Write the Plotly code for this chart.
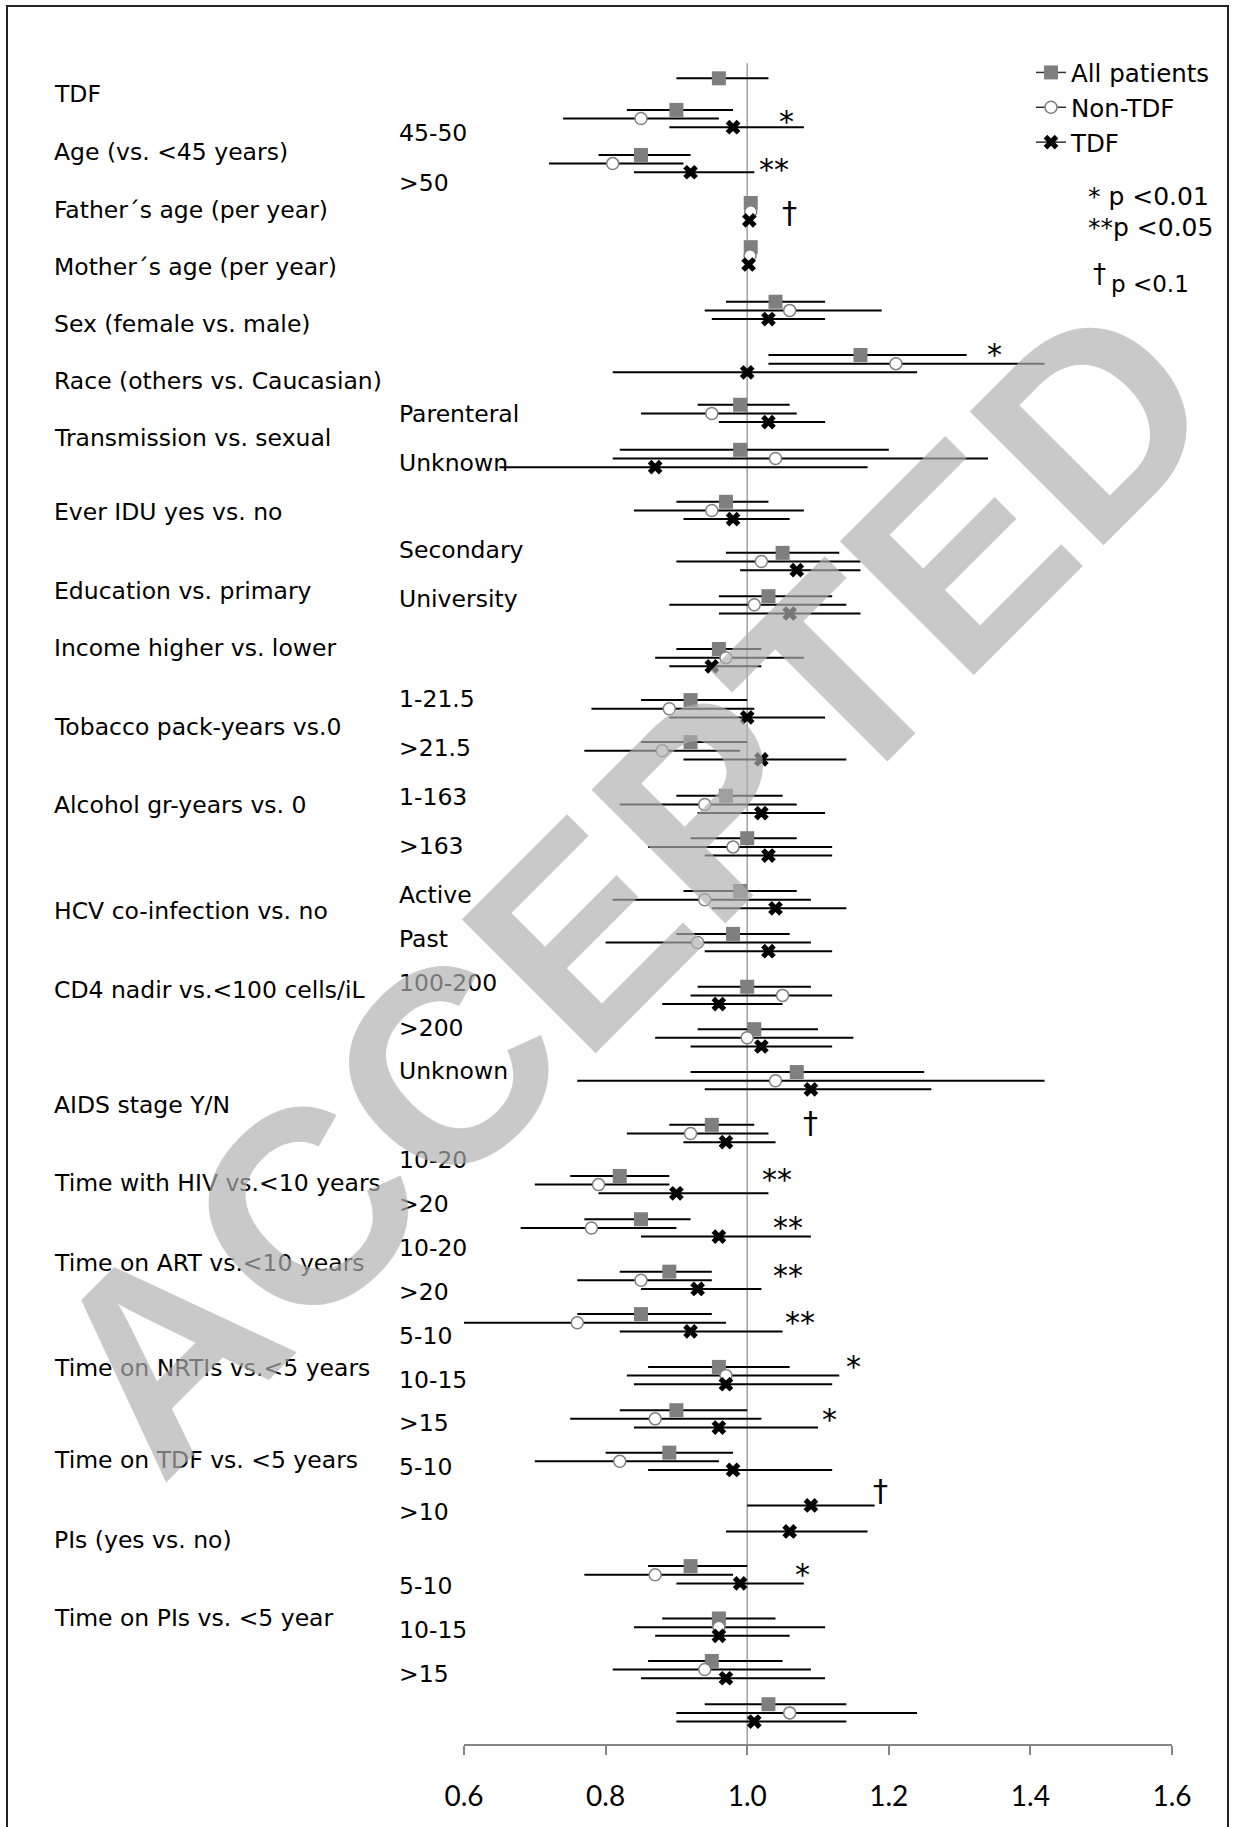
import plotly.graph_objects as go

# ---------------- DATA ----------------
row_names = [
    "TDF", "Age 45-50", "Age >50", "Father's age", "Mother's age", "Sex", "Race",
    "Transmission parenteral", "Transmission unknown", "Ever IDU", "Education secondary",
    "Education university", "Income", "Tobacco 1-21.5", "Tobacco >21.5", "Alcohol 1-163",
    "Alcohol >163", "HCV active", "HCV past", "CD4 100-200", "CD4 >200", "CD4 unknown",
    "AIDS", "HIV 10-20", "HIV >20", "ART 10-20", "ART >20", "NRTIs 5-10", "NRTIs 10-15",
    "NRTIs >15", "TDF 5-10", "TDF >10", "PIs", "PIs 5-10", "PIs 10-15", "PIs >15",
]

# All patients: estimate, lower, upper
all_est = [0.96, 0.90, 0.85, 1.005, 1.005, 1.04, 1.16, 0.99, 0.99, 0.97, 1.05, 1.03, 0.96, 0.92, 0.92, 0.97,
           1.00, 0.99, 0.98, 1.00, 1.01, 1.07, 0.95, 0.82, 0.85, 0.89, 0.85, 0.96, 0.90, 0.89, None, None,
           0.92, 0.96, 0.95, 1.03]
all_lo = [0.90, 0.83, 0.79, 1.000, 1.000, 0.97, 1.03, 0.93, 0.82, 0.90, 0.97, 0.96, 0.90, 0.85, 0.85, 0.90,
          0.92, 0.91, 0.90, 0.93, 0.93, 0.92, 0.89, 0.75, 0.77, 0.82, 0.76, 0.86, 0.82, 0.80, None, None,
          0.86, 0.88, 0.86, 0.94]
all_hi = [1.03, 0.98, 0.92, 1.010, 1.010, 1.11, 1.31, 1.06, 1.20, 1.03, 1.13, 1.12, 1.02, 1.00, 1.00, 1.05,
          1.07, 1.07, 1.06, 1.09, 1.10, 1.25, 1.01, 0.89, 0.92, 0.95, 0.95, 1.06, 1.00, 0.98, None, None,
          1.00, 1.04, 1.05, 1.14]

# Non-TDF
non_est = [None, 0.85, 0.81, 1.005, 1.004, 1.06, 1.21, 0.95, 1.04, 0.95, 1.02, 1.01, 0.97, 0.89, 0.88, 0.94,
           0.98, 0.94, 0.93, 1.05, 1.00, 1.04, 0.92, 0.79, 0.78, 0.85, 0.76, 0.97, 0.87, 0.82, None, None,
           0.87, 0.96, 0.94, 1.06]
non_lo = [None, 0.74, 0.72, 1.000, 0.999, 0.94, 1.03, 0.85, 0.81, 0.84, 0.90, 0.89, 0.87, 0.78, 0.77, 0.82,
          0.86, 0.81, 0.80, 0.92, 0.87, 0.76, 0.83, 0.70, 0.68, 0.76, 0.60, 0.83, 0.75, 0.70, None, None,
          0.77, 0.84, 0.81, 0.90]
non_hi = [None, 0.96, 0.91, 1.010, 1.009, 1.19, 1.42, 1.07, 1.34, 1.08, 1.16, 1.14, 1.08, 1.01, 0.99, 1.07,
          1.12, 1.09, 1.09, 1.12, 1.15, 1.42, 1.03, 0.89, 0.90, 0.95, 0.97, 1.13, 1.02, 0.96, None, None,
          0.98, 1.11, 1.09, 1.24]

# TDF
tdf_est = [None, 0.98, 0.92, 1.003, 1.002, 1.03, 1.00, 1.03, 0.87, 0.98, 1.07, 1.06, 0.95, 1.00, 1.02, 1.02,
           1.03, 1.04, 1.03, 0.96, 1.02, 1.09, 0.97, 0.90, 0.96, 0.93, 0.92, 0.97, 0.96, 0.98, 1.09, 1.06,
           0.99, 0.96, 0.97, 1.01]
tdf_lo = [None, 0.89, 0.84, 0.998, 0.997, 0.95, 0.81, 0.96, 0.65, 0.91, 0.99, 0.96, 0.89, 0.89, 0.91, 0.93,
          0.94, 0.95, 0.94, 0.88, 0.92, 0.94, 0.91, 0.79, 0.85, 0.85, 0.82, 0.84, 0.84, 0.86, 1.00, 0.97,
          0.90, 0.87, 0.85, 0.90]
tdf_hi = [None, 1.08, 1.01, 1.008, 1.007, 1.11, 1.24, 1.11, 1.17, 1.06, 1.16, 1.16, 1.02, 1.11, 1.14, 1.11,
          1.12, 1.14, 1.12, 1.05, 1.12, 1.26, 1.04, 1.03, 1.09, 1.02, 1.05, 1.12, 1.10, 1.12, 1.18, 1.17,
          1.08, 1.06, 1.11, 1.14]

series_names = ["All patients", "Non-TDF", "TDF"]

main_labels = ["TDF", "Age (vs. &lt;45 years)", "Father´s age (per year)", "Mother´s age (per year)",
               "Sex (female vs. male)", "Race (others vs. Caucasian)", "Transmission vs. sexual",
               "Ever IDU yes vs. no", "Education vs. primary", "Income higher vs. lower",
               "Tobacco pack-years vs.0", "Alcohol gr-years vs. 0", "HCV co-infection vs. no",
               "CD4 nadir vs.&lt;100 cells/iL", "AIDS stage Y/N", "Time with HIV vs.&lt;10 years",
               "Time on ART vs.&lt;10 years", "Time on NRTIs vs.&lt;5 years", "Time on TDF vs. &lt;5 years",
               "PIs (yes vs. no)", "Time on PIs vs. &lt;5 year"]
sub_labels = ["45-50", "&gt;50", "Parenteral", "Unknown", "Secondary", "University", "1-21.5", "&gt;21.5",
              "1-163", "&gt;163", "Active", "Past", "100-200", "&gt;200", "Unknown", "10-20", "&gt;20",
              "10-20", "&gt;20", "5-10", "10-15", "&gt;15", "5-10", "&gt;10", "5-10", "10-15", "&gt;15"]
sig_marks = ["*", "**", "†", "*", "†", "**", "**", "**", "**", "*", "*", "†", "*"]
x_ticks = [0.6, 0.8, 1.0, 1.2, 1.4, 1.6]

# ---------------- LAYOUT ----------------
W, H = 1234, 1827
L, R, T, B = 464, 62, 13, 83
PW, PH = W - L - R, H - T - B
ROW_PX, ROW0_PX = 43.3, 78.3

def px_x(px):
    return (px - L) / PW

def px_y(py):
    return (H - B - py) / PH

# vertical position of each row on the y axis (row units, axis reversed)
row_pos = [0, 0.73, 1.77, 2.88, 3.90, 5.16, 6.39, 7.54, 8.58, 9.78, 10.96, 11.96, 13.18, 14.36, 15.33,
           16.57, 17.55, 18.77, 19.76, 20.98, 21.96, 22.95, 24.17, 25.35, 26.35, 27.56, 28.54, 29.76,
           30.76, 31.74, 32.56, 33.16, 34.36, 35.57, 36.55, 37.55]
series_offset = [0.0, 0.2, 0.4]

main_label_py = [94.5, 152, 209.5, 266.5, 324, 381, 438, 511.5, 591, 648.2, 727.3, 805.5, 911, 990,
                 1104.7, 1183, 1262.8, 1368, 1460, 1540, 1618]
sub_label_py = [133, 183, 413.5, 462.6, 550, 599, 699, 747.5, 796.5, 846, 894.5, 939, 983, 1027.5, 1071,
                1160, 1203.5, 1247.5, 1292, 1335.5, 1380, 1423, 1467, 1511.5, 1586, 1630, 1673.5]
sig_pos = [(786, 118), (774, 166), (789, 212), (994, 350), (810, 1123), (777, 1175), (788, 1223),
           (788, 1271), (800, 1318), (853, 1362), (829, 1415), (880, 1490), (802, 1570)]

styles = [
    dict(symbol="square", size=14, color="#7f7f7f", line=dict(width=0)),
    dict(symbol="circle", size=12, color="white", line=dict(width=1.5, color="#7f7f7f")),
    dict(symbol="x", size=13, color="black", line=dict(width=0)),
]

LABEL_FONT = "DejaVu Sans"
fig = go.Figure()

data = [(all_est, all_lo, all_hi), (non_est, non_lo, non_hi), (tdf_est, tdf_lo, tdf_hi)]
for k, (est, lo, hi) in enumerate(data):
    xs, ys, ep, em = [], [], [], []
    for i, e in enumerate(est):
        if e is None:
            continue
        xs.append(e)
        ys.append(row_pos[i] + series_offset[k])
        ep.append(hi[i] - e)
        em.append(e - lo[i])
    fig.add_trace(go.Scatter(
        x=xs, y=ys, mode="markers", name=series_names[k], showlegend=False,
        marker=styles[k],
        error_x=dict(type="data", symmetric=False, array=ep, arrayminus=em,
                     color="black", thickness=2, width=0),
        hoverinfo="x+name",
    ))

# legend entries
for k in range(3):
    fig.add_trace(go.Scatter(
        x=[None], y=[None], mode="lines+markers", name=series_names[k],
        marker=styles[k], line=dict(color="#303030", width=1.5),
    ))

ann = []
for txt, py in zip(main_labels, main_label_py):
    ann.append(dict(text=txt, x=px_x(51.7), y=px_y(py), xref="paper", yref="paper",
                    xanchor="left", yanchor="middle", showarrow=False,
                    font=dict(family=LABEL_FONT, size=23.5, color="black")))
for txt, py in zip(sub_labels, sub_label_py):
    ann.append(dict(text=txt, x=px_x(397), y=px_y(py), xref="paper", yref="paper",
                    xanchor="left", yanchor="middle", showarrow=False,
                    font=dict(family=LABEL_FONT, size=23.5, color="black")))
for s, (sx, sy) in zip(sig_marks, sig_pos):
    dy = 4 if s.startswith("*") else 0
    ann.append(dict(text=s, x=px_x(sx), y=px_y(sy + dy), xref="paper", yref="paper",
                    xanchor="center", yanchor="middle", showarrow=False,
                    font=dict(family=LABEL_FONT, size=30, color="black")))

# p-value notes
ann += [
    dict(text="* p &lt;0.01", x=px_x(1086), y=px_y(196), xref="paper", yref="paper", xanchor="left",
         yanchor="middle", showarrow=False, font=dict(family=LABEL_FONT, size=25, color="black")),
    dict(text="**p &lt;0.05", x=px_x(1086), y=px_y(228), xref="paper", yref="paper", xanchor="left",
         yanchor="middle", showarrow=False, font=dict(family=LABEL_FONT, size=25, color="black")),
    dict(text="†", x=px_x(1091), y=px_y(274), xref="paper", yref="paper", xanchor="left",
         yanchor="middle", showarrow=False, font=dict(family=LABEL_FONT, size=26, color="black")),
    dict(text="p &lt;0.1", x=px_x(1109), y=px_y(284), xref="paper", yref="paper", xanchor="left",
         yanchor="middle", showarrow=False, font=dict(family=LABEL_FONT, size=23, color="black")),
]

# watermark
ann.append(dict(text="<b>ACCEPTED</b>", x=px_x(628), y=px_y(885), xref="paper", yref="paper",
                xanchor="center", yanchor="middle", showarrow=False, textangle=-45,
                font=dict(family="Liberation Sans", size=275, color="rgba(175,175,175,0.68)")))

shapes = [
    dict(type="line", xref="x", yref="y", x0=1.0, x1=1.0, y0=-0.35, y1=(H - B - ROW0_PX) / ROW_PX,
         line=dict(color="#a0a0a0", width=1.5), layer="below"),
    dict(type="rect", xref="paper", yref="paper", x0=px_x(7), x1=px_x(1228), y0=px_y(1835), y1=px_y(6),
         line=dict(color="#222222", width=2), fillcolor="rgba(0,0,0,0)"),
]

fig.update_layout(
    width=W, height=H,
    margin=dict(l=L, r=R, t=T, b=B, autoexpand=False),
    paper_bgcolor="white", plot_bgcolor="white",
    annotations=ann, shapes=shapes,
    showlegend=True,
    legend=dict(x=px_x(1031), y=px_y(50), xanchor="left", yanchor="top",
                font=dict(family=LABEL_FONT, size=24.5, color="black"),
                bgcolor="rgba(0,0,0,0)", itemwidth=30, tracegroupgap=0),
    xaxis=dict(range=[0.6, 1.6], tickvals=x_ticks, ticktext=[f"{v:.1f}" for v in x_ticks],
               showline=True, linecolor="#868686", linewidth=1.5, ticks="outside", ticklen=9,
               tickwidth=1.5, tickcolor="#868686", showgrid=False, zeroline=False,
               tickfont=dict(family="Lato", size=28, color="black"), ticklabelstandoff=18),
    yaxis=dict(range=[(H - B - ROW0_PX) / ROW_PX, (T - ROW0_PX) / ROW_PX], visible=False,
               showgrid=False, zeroline=False),
)

fig.write_html("out.html", config={"displayModeBar": False},
               post_script="document.body.style.margin='0px';")
